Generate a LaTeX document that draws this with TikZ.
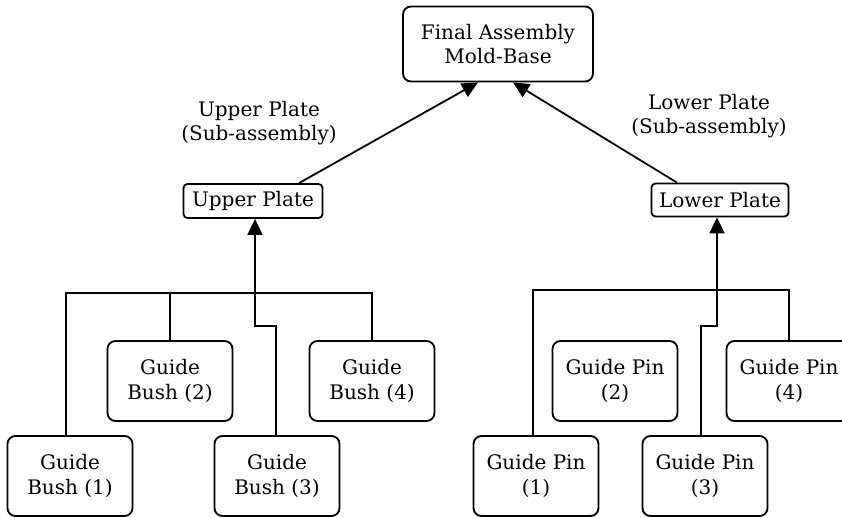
\documentclass[tikz,border=0pt]{standalone}
\usepackage{fontspec}
\setmainfont{DejaVu Serif}
\usetikzlibrary{arrows.meta}
\tikzset{
  link/.style={line width=1.8pt},
  uparrow/.style={link, -{Triangle[length=16pt,width=15pt]}},
  part/.style={draw, line width=1.8pt, rounded corners=8pt, align=center,
    minimum width=125pt, minimum height=80pt, inner sep=2pt},
  plate/.style={draw, line width=1.8pt, rounded corners=4pt, inner sep=2pt},
  note/.style={align=center}
}
\begin{document}
\begin{tikzpicture}[x=1pt, y=-1pt,
		font=\fontsize{20}{24.5}\selectfont
		]
	\useasboundingbox (0,0) rectangle (842,517);
	% top of the tree
	\node [draw, line width=1.8pt, rounded corners=8pt, align=center,
		minimum width=190pt, minimum height=75pt] (final) at (498,44) {Final Assembly\\Mold-Base};
	\node [plate, minimum width=139pt, minimum height=34pt] (upper) at (253,201) {Upper Plate};
	\node [plate, minimum width=137pt, minimum height=33pt] (lower) at (720,200) {Lower Plate};
	\node [note] (uppernote) at (259,123) {Upper Plate\\(Sub-assembly)};
	\node [note] (lowernote) at (709,116) {Lower Plate\\(Sub-assembly)};
	% parts
	\node [part] (bush1) at (70,476) {Guide\\Bush (1)};
	\node [part] (bush2) at (170,381) {Guide\\Bush (2)};
	\node [part] (bush3) at (277,476) {Guide\\Bush (3)};
	\node [part] (bush4) at (372,381) {Guide\\Bush (4)};
	\node [part] (pin1) at (536,476) {Guide Pin\\(1)};
	\node [part] (pin2) at (615,381) {Guide Pin\\(2)};
	\node [part] (pin3) at (705,476) {Guide Pin\\(3)};
	\node [part] (pin4) at (789,381) {Guide Pin\\(4)};
	% joints of the connectors
	\coordinate (ubus) at (255,293);
	\coordinate (ujog) at (255,326);
	\coordinate (lbus) at (717,290);
	\coordinate (ljog) at (717,326);
	% upper plate
	\draw [link] ([xshift=-4pt]bush1.north) |- (ubus) -| (bush4.north);
	\draw [link] (bush2.north) -- (bush2.north |- ubus);
	\draw [link] ([xshift=-1pt]bush3.north) |- (ujog) -- (ubus);
	\draw [uparrow] (ubus) -- (ubus |- upper.south);
	% lower plate
	\draw [link] ([xshift=-3pt]pin1.north) |- (lbus) -| (pin4.north);
	\draw [link] ([xshift=-4pt]pin3.north) |- (ljog) -- (lbus);
	\draw [uparrow] (lbus) -- (lbus |- lower.south);
	% sub-assemblies
	\draw [uparrow] ([xshift=46pt]upper.north) -- ([xshift=-20pt]final.south);
	\draw [uparrow] ([xshift=-43pt]lower.north) -- ([xshift=15pt]final.south);
\end{tikzpicture}
\end{document}
